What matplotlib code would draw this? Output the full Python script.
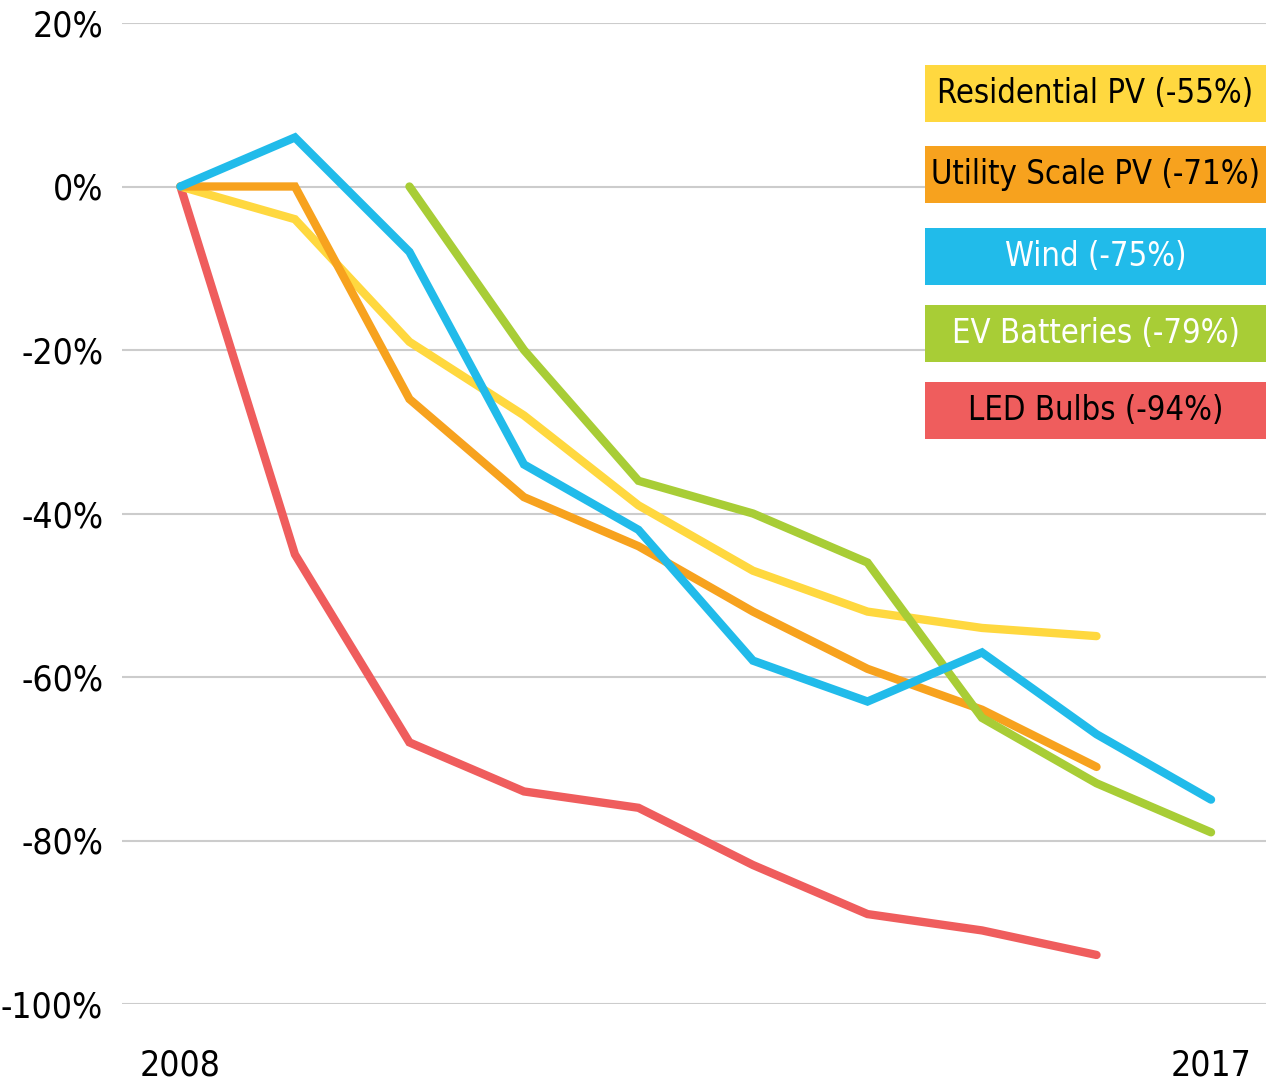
import numpy as np
import matplotlib.pyplot as plt

years = list(range(2008, 2018))

residential_pv = [0, -4, -19, -28, -39, -47, -52, -54, -55, None]
utility_pv = [0, 0, -26, -38, -44, -52, -59, -64, -71, None]
wind = [0, 6, -8, -34, -42, -58, -63, -57, -67, -75]
ev_batteries = [None, None, 0, -20, -36, -40, -46, -65, -73, -79]
led_bulbs = [0, -45, -68, -74, -76, -83, -89, -91, -94, None]

labels = ['Residential PV (-55%)', 'Utility Scale PV (-71%)', 'Wind (-75%)',
          'EV Batteries (-79%)', 'LED Bulbs (-94%)']
colors = ['#FFD83F', '#F7A21E', '#21BBEA', '#A8CD36', '#EF5D5D']
text_colors = ['black', 'black', 'white', 'white', 'black']

plt.rcParams['font.family'] = ['DejaVu Sans']
plt.rcParams['font.stretch'] = 'condensed'

fig = plt.figure(figsize=(12.66, 10.83), dpi=100)
ax = fig.add_axes([122 / 1266, 1 - 1004 / 1083, 1144 / 1266, 981 / 1083])

def to_arr(v):
    return np.array([np.nan if x is None else x for x in v], dtype=float)

series = [residential_pv, utility_pv, wind, ev_batteries, led_bulbs]
order = [4, 0, 1, 3, 2]
for i in order:
    ax.plot(years, to_arr(series[i]), color=colors[i], lw=6,
            solid_capstyle='round', solid_joinstyle='miter', clip_on=False, zorder=3)

ax.set_xlim(2007.49, 2017.48)
ax.set_ylim(-100, 20)
ax.set_yticks(range(-100, 21, 20))
ax.set_yticklabels([f'{v}%' for v in range(-100, 21, 20)])
ax.set_xticks([2008, 2017])
ax.set_xticklabels(['2008', '2017'])
ax.grid(axis='y', color='#cccccc', lw=1.5, zorder=0)
for s in ax.spines.values():
    s.set_visible(False)
ax.tick_params(length=0, labelsize=25.5, colors='black')
ax.tick_params(axis='y', pad=13.5)
ax.tick_params(axis='x', pad=32)

# legend boxes
box_tops = [65, 146, 228, 305, 382]
for lab, c, tc, top in zip(labels, colors, text_colors, box_tops):
    fig.patches.append(plt.Rectangle((925 / 1266, 1 - (top + 57) / 1083), 341 / 1266, 57 / 1083,
                                     transform=fig.transFigure, facecolor=c, edgecolor='none'))
    fig.text((925 + 1266) / 2 / 1266, 1 - (top + 28.5) / 1083, lab, ha='center', va='center',
             fontsize=23.5, color=tc)

fig.savefig('out.png', dpi=100)
